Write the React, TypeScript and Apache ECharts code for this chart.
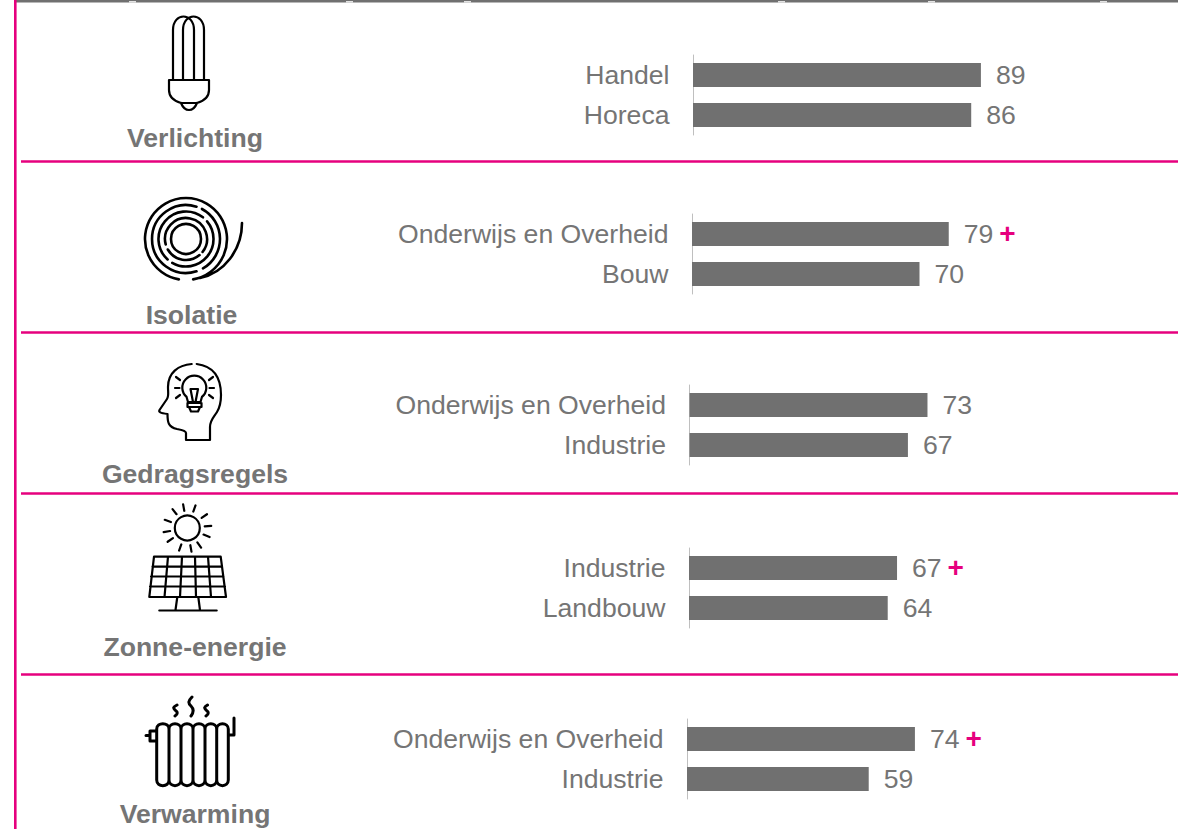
import React, { useEffect, useRef } from "react";
import * as echarts from "echarts";

const titles = ["Verlichting", "Isolatie", "Gedragsregels", "Zonne-energie", "Verwarming"];
const categories = [
  ["Handel", "Horeca"],
  ["Onderwijs en Overheid", "Bouw"],
  ["Onderwijs en Overheid", "Industrie"],
  ["Industrie", "Landbouw"],
  ["Onderwijs en Overheid", "Industrie"],
];
const values = [
  [89, 86],
  [79, 70],
  [73, 67],
  [67, 64],
  [74, 59],
];
const plusMarks = [
  [false, false],
  [true, false],
  [false, false],
  [true, false],
  [true, false],
];

const gridLeft = [693, 692, 689.5, 689, 687];
const gridTop = [55, 214, 385, 548, 719];
const pxPerUnit = [3.235, 3.25, 3.26, 3.105, 3.08];
const titleCenterX = [195, 191.5, 195, 195, 195];
const titleY = [138, 315, 474, 647, 814];
const dividerY = [161.5, 332.5, 493.5, 674.5];

const GRAY = "#757575";
const BAR = "#707070";
const PINK = "#E6007E";

function arc(cx: number, cy: number, r: number, a0: number, a1: number) {
  const end = a1 <= a0 ? a1 + 360 : a1;
  const p = (a: number) => `${(cx + r * Math.cos((a * Math.PI) / 180)).toFixed(2)} ${(cy + r * Math.sin((a * Math.PI) / 180)).toFixed(2)}`;
  const large = end - a0 > 180 ? 1 : 0;
  return `M${p(a0)} A${r} ${r} 0 ${large} 1 ${p(end)} `;
}
function ray(cx: number, cy: number, r0: number, r1: number, a: number) {
  const c = Math.cos((a * Math.PI) / 180), s = Math.sin((a * Math.PI) / 180);
  return `M${(cx + r0 * c).toFixed(2)} ${(cy + r0 * s).toFixed(2)} L${(cx + r1 * c).toFixed(2)} ${(cy + r1 * s).toFixed(2)} `;
}

const bulbIcon =
  "M173 79 V30 C173 12 194 12 194 30 V79 M183 79 V30 C183 12 204 12 204 30 V79 " +
  "M169 80 H209 V90 C209 97 204 101 197 103 H181 C174 101 169 97 169 90 Z " +
  "M181 103 C183 108 186 110 189 110 C192 110 195 108 197 103";

const rollC = [186, 239] as const;
const rollIcon =
  arc(rollC[0], rollC[1], 41, 100, 80) +
  arc(rollC[0], rollC[1], 34, -62, 60) + arc(rollC[0], rollC[1], 34, 72, -72) +
  arc(rollC[0], rollC[1], 27.5, -40, 120) + arc(rollC[0], rollC[1], 27.5, 132, -52) +
  arc(rollC[0], rollC[1], 21, 50, 150) + arc(rollC[0], rollC[1], 21, 165, 38) +
  arc(rollC[0], rollC[1], 15, 0, 359.9) +
  "M200 278 C224 273 242 250 242 223";

const headIcon =
  "M191.7 364 C178 365 168 373 168 387 C168 393 169 396 167 399 L159.5 410 C158.5 412 160 413 167.5 414 " +
  "C167.5 422 168 427 177 429 C183 430 186 431 186 433 V440 H210 V427 C210 420 214 417 217 412 C220 407 221 402 221 395 " +
  "C221 376 212 366 196.7 364 " +
  arc(194.3, 387.7, 12, 130, 50) +
  "M186.5 396.7 L188 402 H200.5 L202 396.7 M190.5 389 H198 L195.5 402 H193 Z " +
  "M187.5 403 H201.5 V407 H187.5 Z M189 407 H200 L198 411.5 H191 Z " +
  "M176 377 L180 380 M175 388 H179.5 M176 398 L180 395 M213 377 L209 380 M214 388 H209.5 M213 398 L209 395";

const sunC = [187.3, 528] as const;
const sunIcon =
  arc(sunC[0], sunC[1], 12.5, 0, 359.9) +
  [-100, -70, -35, -5, 22, 55, 80, 110, 145, 170, 200, 232].map((a) => ray(sunC[0], sunC[1], 17.5, 24, a)).join("") +
  "M154 556.7 H220.7 L226 597 H149.3 Z M152.5 566.7 H222 M151 576.5 H223.5 M150 586.5 H225 " +
  "M168 556.7 L164.5 597 M182 556.7 L180 597 M195 556.7 L196 597 M208 556.7 L211 597 " +
  "M177.3 597 L175.5 610 M198.3 597 L200 610 M159.3 610.5 H216.7";

const finX = [156.7, 169, 181, 193, 205, 216.7, 228.3];
const radiatorIcon =
  finX.slice(0, 6).map((x, i) => {
    const x2 = finX[i + 1];
    return `M${x} 729 C${x} 722 ${x2} 722 ${x2} 729 V780 C${x2} 787.5 ${x} 787.5 ${x} 780 Z `;
  }).join("") +
  "M156.7 731 H150 V741 H156.7 M150 735.5 H146 " +
  "M228.3 735 H234 V718 " +
  "M177 705 C173 707 173 708 175 710 C178 712 178 714 175 716 " +
  "M192 697 C188 701 188 703 191 706 C194 709 194 712 191 716 " +
  "M207.5 705 C204 707 204 708 206 710 C209 712 209 714 206 716";

const icons: [string, string, number][] = [
  ["iconBulb", bulbIcon, 2.2],
  ["iconRoll", rollIcon, 2.6],
  ["iconHead", headIcon, 2.2],
  ["iconSun", sunIcon, 2.2],
  ["iconRadiator", radiatorIcon, 3],
];
icons.forEach(([n, d]) => echarts.graphic.registerShape(n, echarts.graphic.extendPath(d, {})));

const topNicks = [129, 346, 464, 778, 928, 1100];

export default function App() {
  const ref = useRef<HTMLDivElement>(null);
  useEffect(() => {
    document.body.style.margin = "0";
    const chart = echarts.init(ref.current!, undefined, { renderer: "svg", width: 1178, height: 829 });
    const font = "'Liberation Sans', Arial, sans-serif";
    const graphic: any[] = [
      { type: "rect", silent: true, shape: { x: 16, y: 0, width: 1162, height: 2.4 }, style: { fill: BAR } },
      ...topNicks.map((x) => ({ type: "rect", silent: true, shape: { x, y: 1.2, width: 7, height: 1.2 }, style: { fill: "#fff" } })),
      { type: "rect", silent: true, shape: { x: 14, y: 0, width: 2.6, height: 829 }, style: { fill: PINK } },
      ...dividerY.map((y) => ({ type: "rect", silent: true, shape: { x: 21, y: y - 1.3, width: 1157, height: 2.6 }, style: { fill: PINK } })),
      ...titles.map((t, i) => ({
        type: "text", silent: true, x: titleCenterX[i], y: titleY[i],
        style: { text: t, fill: GRAY, font: `bold 26.6px ${font}`, textAlign: "center", textVerticalAlign: "middle" },
      })),
      ...icons.map(([n, , w]) => ({
        type: n, silent: true, x: 0, y: 0,
        style: { fill: "none", stroke: "#000", lineWidth: w, lineJoin: "round", lineCap: "round" },
      })),
    ];
    chart.setOption({
      animation: false,
      backgroundColor: "#fff",
      grid: values.map((_, i) => ({ left: gridLeft[i], top: gridTop[i], width: pxPerUnit[i] * 100, height: 80, containLabel: false })),
      xAxis: values.map((_, i) => ({ gridIndex: i, type: "value", min: 0, max: 100, show: false })),
      yAxis: values.map((_, i) => ({
        gridIndex: i, type: "category", inverse: true, data: categories[i],
        axisLine: { show: true, lineStyle: { color: "#BFBFBF", width: 1 } },
        axisTick: { show: false },
        axisLabel: { color: GRAY, fontFamily: "Liberation Sans", fontSize: 26.6, margin: 23.5 },
      })),
      series: values.map((v, i) => ({
        type: "bar", xAxisIndex: i, yAxisIndex: i, data: v, barWidth: 24,
        itemStyle: { color: BAR },
        label: {
          show: true, position: "right", distance: 15,
          formatter: (p: any) => (plusMarks[i][p.dataIndex] ? `{v|${p.value}}{p|+}` : `{v|${p.value}}`),
          rich: {
            v: { color: GRAY, fontFamily: "Liberation Sans", fontSize: 26.6 },
            p: { color: PINK, fontFamily: "Liberation Sans", fontWeight: "bold", fontSize: 28, padding: [0, 0, 2, 6] },
          },
        },
      })),
      graphic,
    });
    return () => chart.dispose();
  }, []);
  return <div ref={ref} style={{ width: 1178, height: 829 }} />;
}
